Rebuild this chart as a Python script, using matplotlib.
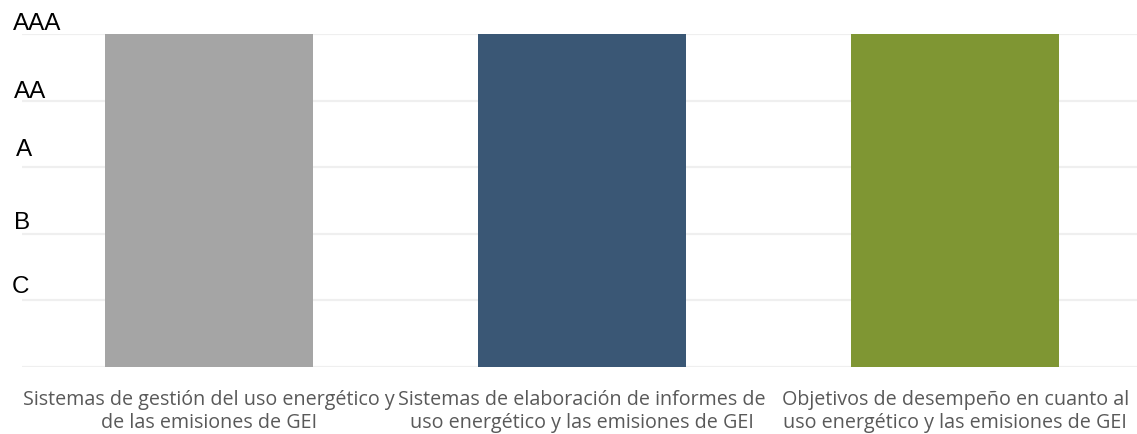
import matplotlib.pyplot as plt
import matplotlib.transforms as mtransforms

categories = ["Sistemas de gestión del uso energético y\nde las emisiones de GEI",
              "Sistemas de elaboración de informes de\nuso energético y las emisiones de GEI",
              "Objetivos de desempeño en cuanto al\nuso energético y las emisiones de GEI"]
values = [5, 5, 5]
ratings = ["C", "B", "A", "AA", "AAA"]
rating_levels = [1, 2, 3, 4, 5]
colors = ["#a5a5a5", "#3a5775", "#7f9633"]

fig = plt.figure(figsize=(11.37, 4.35), dpi=100)
ax = fig.add_axes([22 / 1137, 1 - 368 / 435, 1120 / 1137, 333 / 435])

x = range(len(categories))
ax.bar(x, values, width=0.557, color=colors, zorder=2)

ax.set_xlim(-0.5, 2.5)
ax.set_ylim(0, 5)
ax.set_yticks(range(0, 6))
ax.set_yticklabels([])
ax.tick_params(axis="y", length=0)
ax.grid(axis="y", color="#efefef", linewidth=1.6, zorder=0)
ax.set_axisbelow(True)
for s in ax.spines.values():
    s.set_visible(False)

ax.set_xticks(list(x))
ax.set_xticklabels(categories, fontsize=14.2, color="#595959",
                   family=["Open Sans", "DejaVu Sans"], linespacing=1.25)
ax.tick_params(axis="x", length=0, pad=15.5)

# rating labels sit a bit above each gridline, left of the plot
trans = mtransforms.blended_transform_factory(fig.transFigure, ax.transData)
offsets = [0.21, 0.17, 0.28, 0.14, 0.16]
xpos = [12, 14, 16, 14, 13]
for lab, lvl, off, xp in zip(ratings, rating_levels, offsets, xpos):
    ax.text(xp / 1137, lvl + off, lab, transform=trans, fontsize=17.5,
            family=["Liberation Sans", "DejaVu Sans"], color="black",
            ha="left", va="center", clip_on=False)

fig.savefig("out.png", dpi=100)
